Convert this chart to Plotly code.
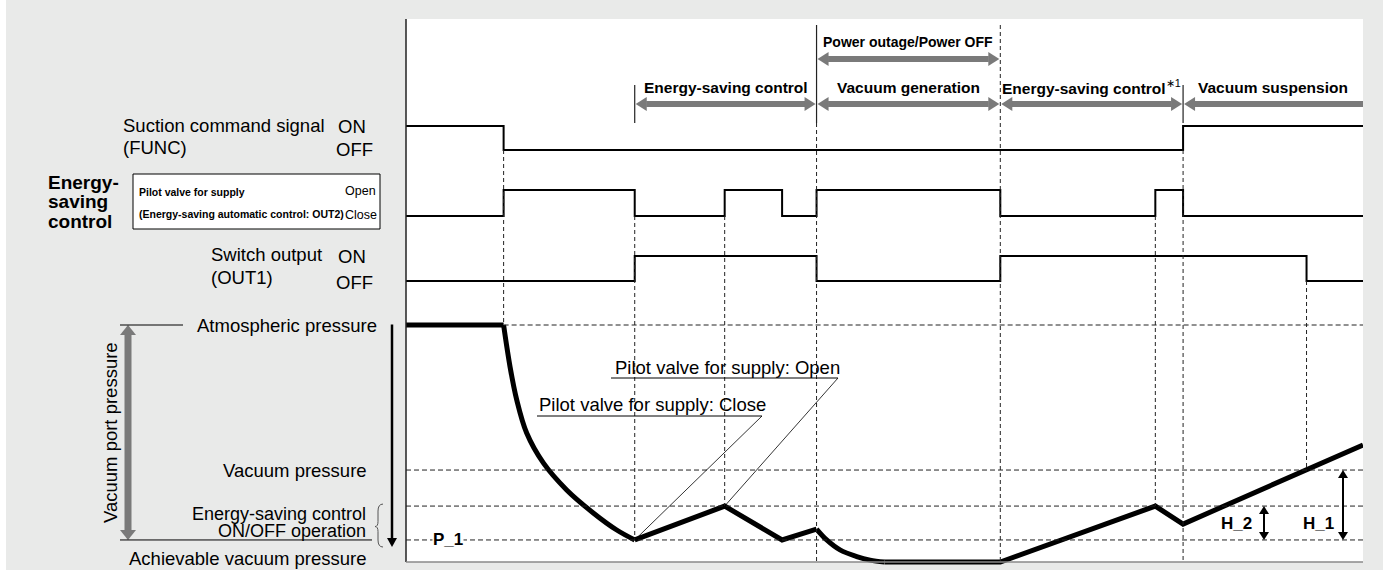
import plotly.graph_objects as go

W, H = 1389, 570

# ---------------- signal timing (time units 0..100) ----------------
func_t = [0, 10.2, 81.2, 100]
func_s = [1, 0, 1, 1]                                   # 1 = ON, 0 = OFF
pilot_t = [0, 10.2, 23.9, 33.3, 39.3, 42.9, 62.1, 78.3, 81.2, 100]
pilot_s = [0, 1, 0, 1, 0, 1, 0, 1, 0, 0]                # 1 = Open, 0 = Close
out1_t = [0, 23.9, 42.9, 62.1, 94.1, 100]
out1_s = [0, 1, 0, 1, 0, 0]                             # 1 = ON, 0 = OFF

# ---------------- vacuum port pressure levels (0 = atmospheric) ----------------
level_keys = ["atm", "vac", "es_hi", "p1", "min"]
level_vals = [0.0, -61.2, -76.4, -90.7, -100.0]
LV = dict(zip(level_keys, level_vals))

# pressure curve, piece by piece
p_hold_t = [0, 10.2]
p_hold_v = [0, 0]
p_pull_t = [10.2, 10.87, 11.57, 12.61, 14.35, 16.79, 19.57, 22.02, 23.9]
p_pull_v = [0, -17.6, -31.6, -45.6, -58.2, -69.6, -79.3, -86.5, -90.7]
p_es_t = [23.9, 33.3, 39.3, 42.9]
p_es_v = [-90.7, -76.4, -90.7, -86.1]
p_gen_t = [42.9, 43.96, 45.35, 47.1, 48.5, 50.0]
p_gen_v = [-86.1, -90.7, -94.9, -97.7, -99.2, -100.0]
p_rest_t = [50.0, 62.1, 78.3, 81.2, 100]
p_rest_v = [-100.0, -100.0, -76.4, -84.0, -50.6]

# ---------------- phases shown above the chart ----------------
phase_labels = ["Energy-saving control", "Vacuum generation",
                "Energy-saving control<span style='font-weight:normal;color:#000'><sup>∗1</sup></span>",
                "Vacuum suspension"]
phase_start = [23.9, 42.9, 62.1, 81.2]
phase_end = [42.9, 62.1, 81.2, 100]
outage_span = [42.9, 62.1]

# ---------------- styling / geometry ----------------
SANS = "Liberation Sans, Arial, Helvetica, sans-serif"
BG = "#e9eae9"
GRAY = "#7a7a7a"

PANEL_L, PANEL_R, PANEL_T, PANEL_B = 406, 1363, 19, 562
T_MAX = 100.0
PX_PER_T = (PANEL_R - PANEL_L) / T_MAX
P_ATM_PX = 325
PX_PER_P = 2.37

FUNC_ROW = (126, 150)
PILOT_ROW = (190, 216)
OUT1_ROW = (256, 281)


def fx(px):
    return px / W


def fy(py):
    return 1 - py / H


def t_px(t):
    return PANEL_L + t * PX_PER_T


def p_px(p):
    return P_ATM_PX - p * PX_PER_P


def py_p(py):
    return (P_ATM_PX - py) / PX_PER_P


def row_axis(row, lo=-1.0, hi=2.0):
    on_px, off_px = row
    s = off_px - on_px
    top = on_px - (hi - 1) * s
    bot = off_px - lo * s
    return dict(domain=[fy(bot), fy(top)], range=[lo, hi], anchor="x",
                visible=False, fixedrange=True)


fig = go.Figure()

for t, s, ax in [(func_t, func_s, "y2"), (pilot_t, pilot_s, "y3"), (out1_t, out1_s, "y4")]:
    fig.add_trace(go.Scatter(x=t, y=s, mode="lines", yaxis=ax, hoverinfo="skip",
                             line=dict(color="black", width=2, shape="hv"), showlegend=False))

for t, v, shp in [(p_hold_t, p_hold_v, "linear"), (p_pull_t, p_pull_v, "spline"),
                  (p_es_t, p_es_v, "linear"), (p_gen_t, p_gen_v, "spline"),
                  (p_rest_t, p_rest_v, "linear")]:
    fig.add_trace(go.Scatter(x=t, y=v, mode="lines", yaxis="y", hoverinfo="skip",
                             line=dict(color="black", width=5, shape=shp), showlegend=False))

shapes = []

# backdrop and white panel
shapes.append(dict(type="rect", xref="paper", yref="paper", x0=fx(6), x1=fx(1383), y0=0, y1=1,
                   fillcolor=BG, line=dict(width=0), layer="below"))
shapes.append(dict(type="rect", xref="paper", yref="paper", x0=fx(PANEL_L), x1=fx(PANEL_R),
                   y0=fy(PANEL_B), y1=fy(PANEL_T), fillcolor="white", line=dict(width=0), layer="below"))
shapes.append(dict(type="line", xref="paper", yref="paper", x0=fx(PANEL_L), x1=fx(PANEL_L),
                   y0=fy(PANEL_T), y1=fy(PANEL_B), line=dict(color="#222", width=1.5)))
shapes.append(dict(type="line", xref="paper", yref="paper", x0=fx(PANEL_L), x1=fx(PANEL_R),
                   y0=fy(PANEL_B), y1=fy(PANEL_B), line=dict(color="#8a8a8a", width=1.5)))

DASH = "4px,3px"

# vertical timing guides: (time, top px, bottom px)
guides = [
    (func_t[1], FUNC_ROW[1], p_px(LV["atm"])),
    (pilot_t[2], PILOT_ROW[1], p_px(LV["p1"])),
    (pilot_t[3], PILOT_ROW[1], p_px(LV["es_hi"])),
    (outage_span[0], 123, PANEL_B),
    (outage_span[1], 25, PANEL_B),
    (pilot_t[7], PILOT_ROW[1], p_px(LV["es_hi"])),
    (func_t[2], FUNC_ROW[1], PANEL_B),
    (out1_t[4], OUT1_ROW[1], p_px(LV["vac"])),
]
for t, y0, y1 in guides:
    shapes.append(dict(type="line", xref="x", yref="paper", x0=t, x1=t, y0=fy(y0), y1=fy(y1),
                       line=dict(color="#222", width=1, dash=DASH)))

# solid phase boundary ticks
for t, y0, y1 in [(phase_start[0], 85, 123), (outage_span[0], 25, 123), (phase_start[3], 85, 123)]:
    shapes.append(dict(type="line", xref="x", yref="paper", x0=t, x1=t, y0=fy(y0), y1=fy(y1),
                       line=dict(color="#222", width=1.2)))

# horizontal pressure level guides
for key, t0 in [("atm", p_hold_t[1]), ("vac", 0), ("es_hi", 0), ("p1", 0)]:
    shapes.append(dict(type="line", xref="x", yref="y", x0=t0, x1=T_MAX, y0=LV[key], y1=LV[key],
                       line=dict(color="#222", width=1, dash="5px,3px")))


def harrow(t0, t1, ypx, color=GRAY, shaft=6, hl=12, hw=7, start=True, end=True):
    dl = hl / PX_PER_T
    a = t0 + (dl if start else 0)
    b = t1 - (dl if end else 0)
    shapes.append(dict(type="line", xref="x", yref="paper", x0=a - 0.05, x1=b + 0.05,
                       y0=fy(ypx), y1=fy(ypx), line=dict(color=color, width=shaft)))
    y, yu, yd = fy(ypx), fy(ypx - hw), fy(ypx + hw)
    if start:
        shapes.append(dict(type="path", xref="x", yref="paper", fillcolor=color, line=dict(width=0),
                           path=f"M {t0 + 0.1},{y} L {t0 + dl},{yu} L {t0 + dl},{yd} Z"))
    if end:
        shapes.append(dict(type="path", xref="x", yref="paper", fillcolor=color, line=dict(width=0),
                           path=f"M {t1 - 0.1},{y} L {t1 - dl},{yu} L {t1 - dl},{yd} Z"))


def varrow(xpx, y0px, y1px, color, shaft, hl, hw, top=True, bottom=True):
    a = y0px + (hl if top else 0)
    b = y1px - (hl if bottom else 0)
    shapes.append(dict(type="line", xref="paper", yref="paper", x0=fx(xpx), x1=fx(xpx),
                       y0=fy(a - 0.5), y1=fy(b + 0.5), line=dict(color=color, width=shaft)))
    if top:
        shapes.append(dict(type="path", xref="paper", yref="paper", fillcolor=color, line=dict(width=0),
                           path=f"M {fx(xpx)},{fy(y0px)} L {fx(xpx - hw)},{fy(y0px + hl)} "
                                f"L {fx(xpx + hw)},{fy(y0px + hl)} Z"))
    if bottom:
        shapes.append(dict(type="path", xref="paper", yref="paper", fillcolor=color, line=dict(width=0),
                           path=f"M {fx(xpx)},{fy(y1px)} L {fx(xpx - hw)},{fy(y1px - hl)} "
                                f"L {fx(xpx + hw)},{fy(y1px - hl)} Z"))


# phase arrows
harrow(outage_span[0], outage_span[1], 59)
for i in range(4):
    harrow(phase_start[i], phase_end[i], 104, end=(i < 3))

# pressure scale arrows on the left
varrow(128, p_px(LV["atm"]), p_px(LV["p1"]), GRAY, 7, 10, 8)
varrow(392, p_px(LV["atm"]), 547, "black", 2.5, 9, 5, top=False)

# hysteresis arrows
varrow(1264, p_px(LV["es_hi"]), p_px(LV["p1"]), "black", 2, 8, 5)
varrow(1343, p_px(LV["vac"]), p_px(LV["p1"]), "black", 2, 8, 5)

# reference lines beside the labels
shapes.append(dict(type="line", xref="paper", yref="paper", x0=fx(120), x1=fx(183),
                   y0=fy(p_px(LV["atm"])), y1=fy(p_px(LV["atm"])), line=dict(color="black", width=1)))
shapes.append(dict(type="line", xref="paper", yref="paper", x0=fx(120), x1=fx(372),
                   y0=fy(p_px(LV["p1"])), y1=fy(p_px(LV["p1"])), line=dict(color="black", width=1)))

# brace for the ON/OFF band
bx, bt, bm, bb = 383, p_px(LV["es_hi"]) - 2, (p_px(LV["es_hi"]) + 547) / 2, 547
brace = (f"M {fx(bx)},{fy(bt)} Q {fx(bx - 5)},{fy(bt)} {fx(bx - 5)},{fy(bt + 7)} "
         f"L {fx(bx - 5)},{fy(bm - 5)} Q {fx(bx - 5)},{fy(bm)} {fx(bx - 8)},{fy(bm)} "
         f"Q {fx(bx - 5)},{fy(bm)} {fx(bx - 5)},{fy(bm + 5)} "
         f"L {fx(bx - 5)},{fy(bb - 7)} Q {fx(bx - 5)},{fy(bb)} {fx(bx)},{fy(bb)}")
shapes.append(dict(type="path", xref="paper", yref="paper", path=brace,
                   line=dict(color="#555", width=1)))

# box around pilot valve label
shapes.append(dict(type="rect", xref="paper", yref="paper", x0=fx(133), x1=fx(380), y0=fy(229), y1=fy(174),
                   fillcolor="white", line=dict(color="black", width=1)))

# callout leaders for pilot valve events
for tpt, lvl, ux0, ux1, uy in [(pilot_t[3], LV["es_hi"], 611, 838, 378),
                               (pilot_t[2], LV["p1"], 537, 762, 416)]:
    shapes.append(dict(type="line", xref="paper", yref="paper", x0=fx(ux0), x1=fx(ux1), y0=fy(uy), y1=fy(uy),
                       line=dict(color="black", width=1)))
    shapes.append(dict(type="line", xref="paper", yref="paper", x0=fx(ux1), x1=fx(t_px(tpt)),
                       y0=fy(uy), y1=fy(p_px(lvl)), line=dict(color="black", width=0.8)))

ann = []


def txt(s, xpx, ypx, size=18.5, xanchor="left", bold=False, **kw):
    ann.append(dict(text=s, x=fx(xpx), y=fy(ypx), xref="paper", yref="paper", showarrow=False,
                    xanchor=xanchor, yanchor="middle",
                    font=dict(family=SANS, size=size, color="black",
                              weight="bold" if bold else "normal"), **kw))


# phase captions
txt("Power outage/Power OFF", (t_px(outage_span[0]) + t_px(outage_span[1])) / 2, 42,
    size=14, xanchor="center", bold=True)
for i, lab in enumerate(phase_labels):
    txt(lab, (t_px(phase_start[i]) + t_px(phase_end[i])) / 2, 87, size=15.5, xanchor="center",
        bold=True)

# signal captions
txt("Suction command signal", 121, 125)
txt("(FUNC)", 121, 148)
txt("ON", 336, FUNC_ROW[0])
txt("OFF", 334, FUNC_ROW[1])
txt("Energy-", 46, 182, size=19, bold=True)
txt("saving", 46, 201, size=19, bold=True)
txt("control", 46, 221, size=19, bold=True)
txt("Pilot valve for supply", 137, 192, size=10.5, bold=True)
txt("(Energy-saving automatic control: OUT2)", 137, 214, size=10.5, bold=True)
txt("Open", 378, 191, size=12.5, xanchor="right")
txt("Close", 379, 215, size=12.5, xanchor="right")
txt("Switch output", 209, 254)
txt("(OUT1)", 209, 277)
txt("ON", 336, 256)
txt("OFF", 334, 282)

# pressure captions
txt("Atmospheric pressure", 379, p_px(LV["atm"]), xanchor="right")
txt("Vacuum pressure", 369, p_px(LV["vac"]), xanchor="right")
txt("Energy-saving control", 368, 514, size=18, xanchor="right")
txt("ON/OFF operation", 368, 531, size=18, xanchor="right")
txt("Achievable vacuum pressure", 369, 558, xanchor="right")
ann.append(dict(text="Vacuum port pressure", x=fx(110), y=fy(433), xref="paper", yref="paper",
                showarrow=False, textangle=-90, xanchor="center", yanchor="middle",
                font=dict(family=SANS, size=18.5, color="black")))

txt("Pilot valve for supply: Open", 613, 367)
txt("Pilot valve for supply: Close", 537, 404)
txt("P_1", 448, p_px(LV["p1"]), size=17, xanchor="center", bold=True, bgcolor="white", borderpad=0)
txt("H_2", 1236, 523, size=17, xanchor="center", bold=True)
txt("H_1", 1318, 523, size=17, xanchor="center", bold=True)

fig.update_layout(
    width=W, height=H, margin=dict(l=0, r=0, t=0, b=0),
    paper_bgcolor="white", plot_bgcolor="rgba(0,0,0,0)",
    showlegend=False,
    xaxis=dict(domain=[fx(PANEL_L), fx(PANEL_R)], range=[0, T_MAX], visible=False, fixedrange=True),
    yaxis=dict(domain=[0, fy(300)], range=[py_p(H), py_p(300)], visible=False, fixedrange=True),
    yaxis2=row_axis(FUNC_ROW),
    yaxis3=row_axis(PILOT_ROW),
    yaxis4=row_axis(OUT1_ROW),
    shapes=shapes,
    annotations=ann,
)

fig.write_html("out.html")
